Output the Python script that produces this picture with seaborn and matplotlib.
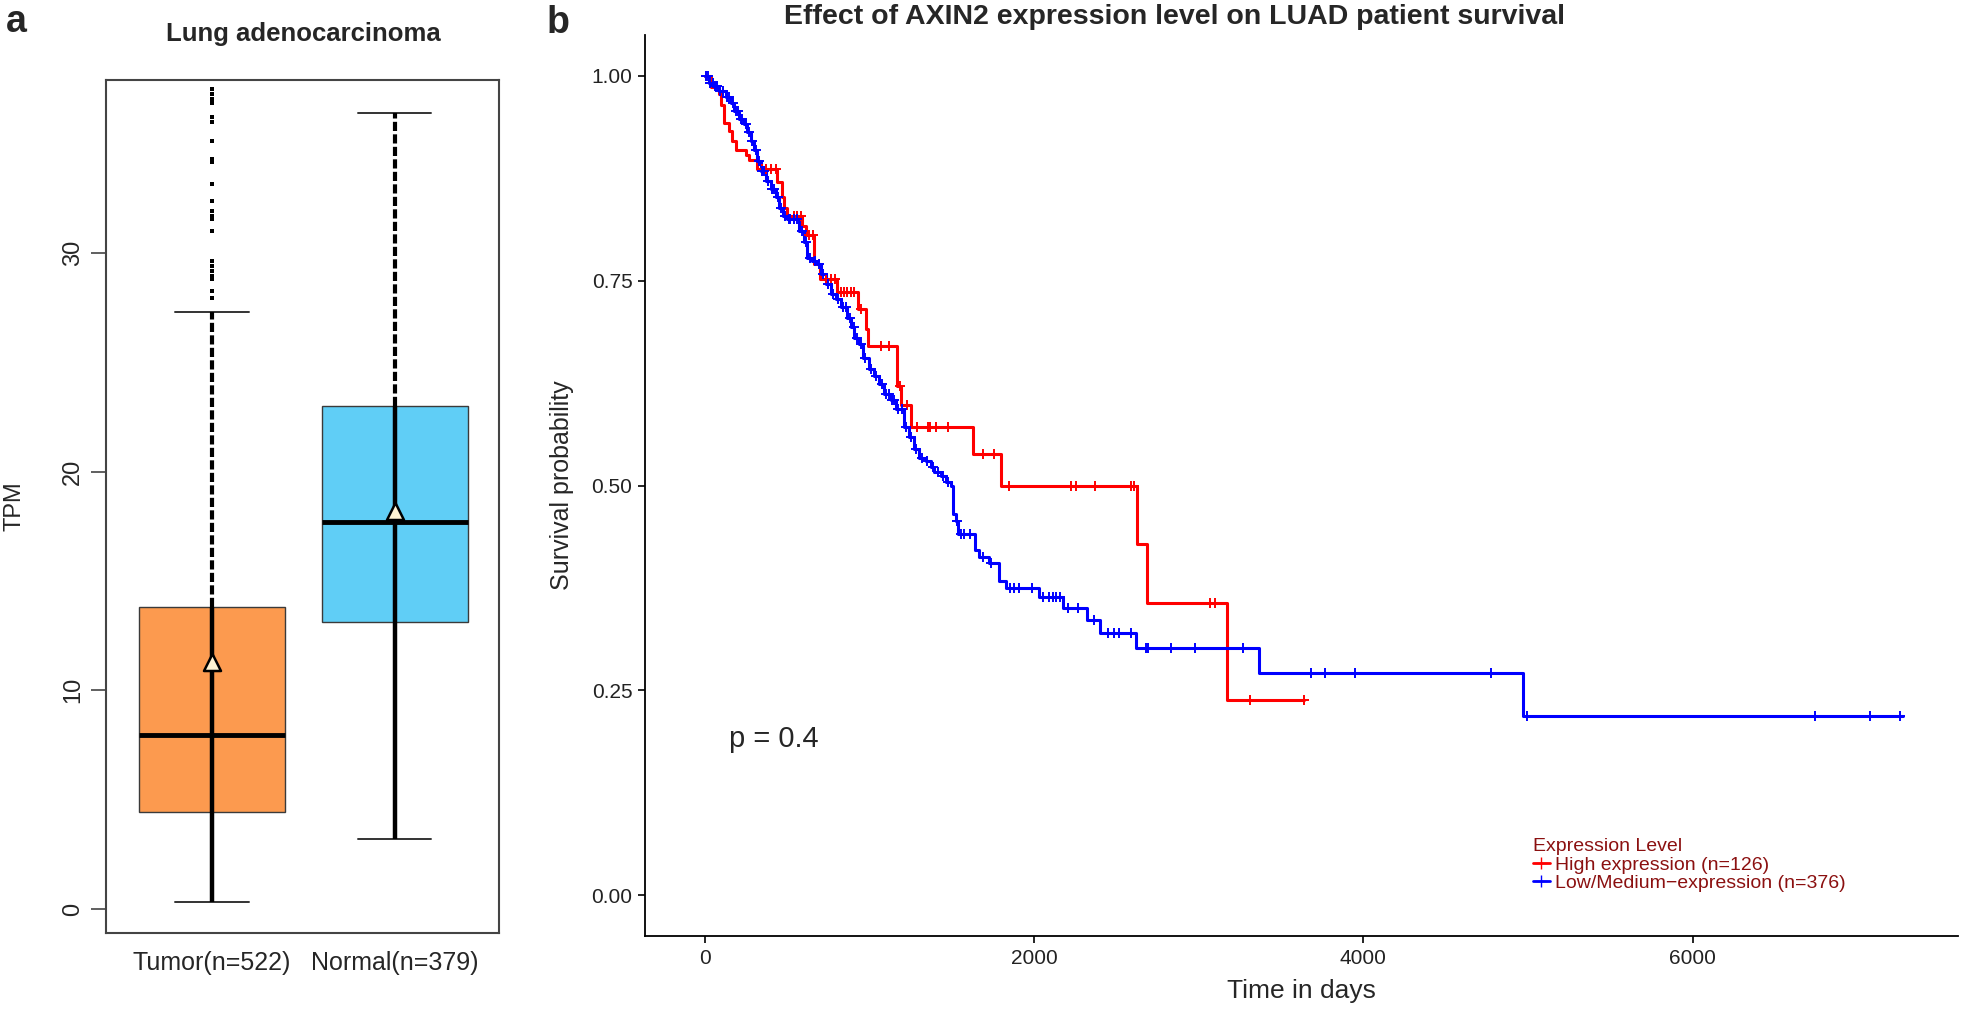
import numpy as np
import pandas as pd
import matplotlib.pyplot as plt
import seaborn as sns
from matplotlib.lines import Line2D

sns.set_style("ticks")
plt.rcParams['font.family'] = ['Liberation Sans', 'DejaVu Sans']

# panel a - AXIN2 TPM box summary
groups = ["Tumor(n=522)", "Normal(n=379)"]
box_colors = ["#FC9A4F", "#60CEF6"]
q1 = [4.44, 13.1]
medians = [7.96, 17.7]
q3 = [13.8, 23.0]
whislo = [0.32, 3.2]
whishi = [27.3, 36.4]
means = [11.3, 18.2]
tumor_outliers = [37.48, 37.25, 37.03, 36.87, 36.19, 35.96, 35.11, 34.28, 34.13,
                  33.14, 32.37, 31.91, 31.68, 31.53, 31.0, 29.62, 29.4, 29.17,
                  28.94, 28.79, 28.25, 27.95]

# panel b - Kaplan-Meier steps (time in days, survival)
high_t = [0, 36, 85, 97, 118, 148, 164, 188, 249, 270, 320, 442, 468, 482, 503,
          590, 614, 665, 703, 806, 932, 979, 993, 1171, 1191, 1256, 1627, 1803,
          2626, 2687, 3173, 3643]
high_s = [1.0, 0.986, 0.978, 0.965, 0.943, 0.933, 0.921, 0.910, 0.904, 0.898,
          0.886, 0.870, 0.852, 0.839, 0.829, 0.817, 0.806, 0.770, 0.752, 0.736,
          0.715, 0.691, 0.670, 0.622, 0.598, 0.571, 0.538, 0.499, 0.428, 0.357,
          0.238, 0.238]
high_cens = [6, 351, 375, 401, 432, 543, 563, 584, 634, 658, 736, 766, 792, 827,
             847, 867, 888, 908, 948, 1070, 1120, 1187, 1232, 1289, 1357, 1370,
             1404, 1479, 1688, 1755, 1850, 2225, 2255, 2371, 2590, 2610, 3072,
             3100, 3313, 3643]

low_t = [0, 26, 57, 87, 128, 158, 178, 209, 239, 260, 280, 300, 320, 340, 371,
         401, 432, 452, 476, 503, 573, 604, 624, 655, 685, 705, 736, 766, 796,
         827, 867, 888, 910, 938, 959, 999, 1029, 1060, 1090, 1131, 1161, 1212,
         1242, 1272, 1303, 1343, 1374, 1394, 1435, 1465, 1495, 1506, 1526, 1536,
         1640, 1664, 1726, 1788, 1832, 2030, 2176, 2323, 2400, 2621, 3367, 4970,
         7275]
low_s = [1.0, 0.992, 0.988, 0.982, 0.974, 0.967, 0.957, 0.947, 0.941, 0.931,
         0.921, 0.909, 0.896, 0.884, 0.872, 0.862, 0.852, 0.839, 0.829, 0.825,
         0.811, 0.797, 0.778, 0.774, 0.770, 0.758, 0.746, 0.734, 0.728, 0.718,
         0.705, 0.693, 0.680, 0.673, 0.656, 0.642, 0.634, 0.624, 0.612, 0.604,
         0.594, 0.571, 0.559, 0.545, 0.533, 0.530, 0.522, 0.516, 0.512, 0.504,
         0.500, 0.465, 0.457, 0.441, 0.421, 0.413, 0.405, 0.384, 0.375, 0.364,
         0.350, 0.336, 0.320, 0.302, 0.271, 0.218, 0.218]
low_cens = [10, 20, 35, 48, 65, 75, 95, 110, 135, 150, 170, 190, 200, 220, 230,
            250, 270, 290, 310, 330, 350, 360, 385, 410, 420, 445, 465, 490, 510,
            520, 540, 560, 590, 615, 640, 670, 695, 720, 750, 780, 810, 840, 860,
            880, 905, 925, 950, 975, 1010, 1040, 1075, 1100, 1120, 1140, 1150,
            1175, 1200, 1225, 1255, 1285, 1320, 1350, 1385, 1420, 1450, 1480,
            1530, 1557, 1577, 1610, 1690, 1740, 1857, 1880, 1910, 1990, 2058,
            2090, 2114, 2134, 2160, 2205, 2266, 2363, 2452, 2488, 2519, 2590,
            2681, 2695, 2833, 2979, 3269, 3680, 3765, 3948, 4774, 4997, 6745,
            7075, 7262]

time_ticks = [0, 2000, 4000, 6000]
surv_ticks = [0.0, 0.25, 0.50, 0.75, 1.0]


def surv_at(t_steps, s_steps, times):
    idx = np.searchsorted(t_steps, times, side='right') - 1
    return np.asarray(s_steps)[idx]


W, H = 1961, 1011
fig = plt.figure(figsize=(W / 100, H / 100), dpi=100)
ax_a = fig.add_axes([106 / W, 1 - 933 / H, 393 / W, 853 / H])
ax_b = fig.add_axes([645 / W, 1 - 936 / H, 1313 / W, 901 / H])

# ---------- panel a
stats = [dict(label=g, q1=a, med=m, q3=b, whislo=lo, whishi=hi, fliers=[])
         for g, a, m, b, lo, hi in zip(groups, q1, medians, q3, whislo, whishi)]
bp = ax_a.bxp(stats, positions=[0, 1], widths=0.8, patch_artist=True,
              showfliers=False, capwidths=0.4,
              medianprops=dict(color='black', linewidth=3.5, zorder=4),
              boxprops=dict(edgecolor='#3a3a3a', linewidth=1.0),
              whiskerprops=dict(linewidth=0),
              capprops=dict(color='#333333', linewidth=1.4))
for patch, c in zip(bp['boxes'], box_colors):
    patch.set_facecolor(c)

# dense sample points along the centre line
ax_a.vlines([0, 1], whislo, q3, colors='black', linewidth=3.2, zorder=3)
ax_a.vlines([0, 1], q3, whishi, colors='black', linewidth=3.0,
            linestyles=(0, (2.2, 0.8)), zorder=3)

out_df = pd.DataFrame({'group': [groups[0]] * len(tumor_outliers),
                       'TPM': tumor_outliers})
sns.stripplot(data=out_df, x='group', y='TPM', order=groups, jitter=False,
              color='black', marker='s', size=3.2, linewidth=0, ax=ax_a, zorder=3)
sns.scatterplot(x=[0, 1], y=means, marker='^', s=150, color='#FFF3D2',
                edgecolor='black', linewidth=1.8, zorder=6, legend=False, ax=ax_a)

ax_a.set_xlim(-0.58, 1.57)
ax_a.set_ylim(-1.1, 37.9)
ax_a.set_xticks([0, 1])
ax_a.set_xticklabels(groups, fontsize=18)
ax_a.set_yticks([0, 10, 20, 30])
ax_a.set_yticklabels(['0', '10', '20', '30'], rotation=90, va='center', fontsize=17)
ax_a.tick_params(axis='x', length=0, pad=13)
ax_a.tick_params(axis='y', length=11, width=1.2, color='#444444', pad=5)
ax_a.set_xlabel('')
ax_a.set_ylabel('TPM', fontsize=17)
ax_a.yaxis.set_label_coords(-0.205, 0.5)
for sp in ax_a.spines.values():
    sp.set_visible(True)
    sp.set_color('#444444')
    sp.set_linewidth(1.5)

# ---------- panel b
sns.lineplot(x=high_t, y=high_s, drawstyle='steps-post', color='#FF0000',
             linewidth=2.2, estimator=None, sort=False, ax=ax_b)
sns.lineplot(x=low_t, y=low_s, drawstyle='steps-post', color='#0000FF',
             linewidth=2.2, estimator=None, sort=False, ax=ax_b)
sns.scatterplot(x=high_cens, y=surv_at(high_t, high_s, high_cens), marker='+',
                s=60, color='#FF0000', linewidth=1.4, legend=False, ax=ax_b, zorder=4)
sns.scatterplot(x=low_cens, y=surv_at(low_t, low_s, low_cens), marker='+',
                s=60, color='#0000FF', linewidth=1.4, legend=False, ax=ax_b, zorder=4)

ax_b.set_xlim(-362, 7612)
ax_b.set_ylim(-0.05, 1.05)
ax_b.set_xticks(time_ticks)
ax_b.set_xticklabels([str(t) for t in time_ticks])
ax_b.set_yticks(surv_ticks)
ax_b.set_yticklabels([f'{v:.2f}' for v in surv_ticks])
ax_b.tick_params(length=5, width=1.2, color='black', labelsize=15,
                 labelcolor='#222222', pad=4)
sns.despine(ax=ax_b)
for sp in ['left', 'bottom']:
    ax_b.spines[sp].set_color('black')
    ax_b.spines[sp].set_linewidth(1.3)
ax_b.set_xlabel('Time in days', fontsize=19)
ax_b.set_ylabel('Survival probability', fontsize=18)
ax_b.xaxis.set_label_coords(0.5, -0.048)
ax_b.yaxis.set_label_coords(-0.054, 0.5)
ax_b.text(150, 0.19, 'p = 0.4', fontsize=21, va='center', ha='left')

handles = [Line2D([], [], color='#FF0000', marker='+', linewidth=2, markersize=8),
           Line2D([], [], color='#0000FF', marker='+', linewidth=2, markersize=8)]
leg = fig.legend(handles, ['High expression (n=126)', 'Low/Medium\u2212expression (n=376)'],
                 title='Expression Level', loc='upper left',
                 bbox_to_anchor=(1533 / W, 1 - 838 / H), frameon=False,
                 fontsize=14, title_fontsize=14, labelcolor='#8B1010',
                 handlelength=0.85, handletextpad=0.3, labelspacing=0.05,
                 borderpad=0, borderaxespad=0)
leg.get_title().set_color('#8B1010')
leg._legend_box.align = 'left'

# ---------- titles and panel letters
fig.text(303 / W, 1 - 41 / H, 'Lung adenocarcinoma', ha='center', va='baseline',
         fontsize=18.5, fontweight='bold')
fig.text(1175 / W, 1 - 23.5 / H, 'Effect of AXIN2 expression level on LUAD patient survival',
         ha='center', va='baseline', fontsize=20.5, fontweight='bold')
fig.text(6 / W, 1 - 32 / H, 'a', ha='left', va='baseline', fontsize=27, fontweight='bold')
fig.text(547 / W, 1 - 33 / H, 'b', ha='left', va='baseline', fontsize=27, fontweight='bold')

fig.savefig('out.png', dpi=100)
